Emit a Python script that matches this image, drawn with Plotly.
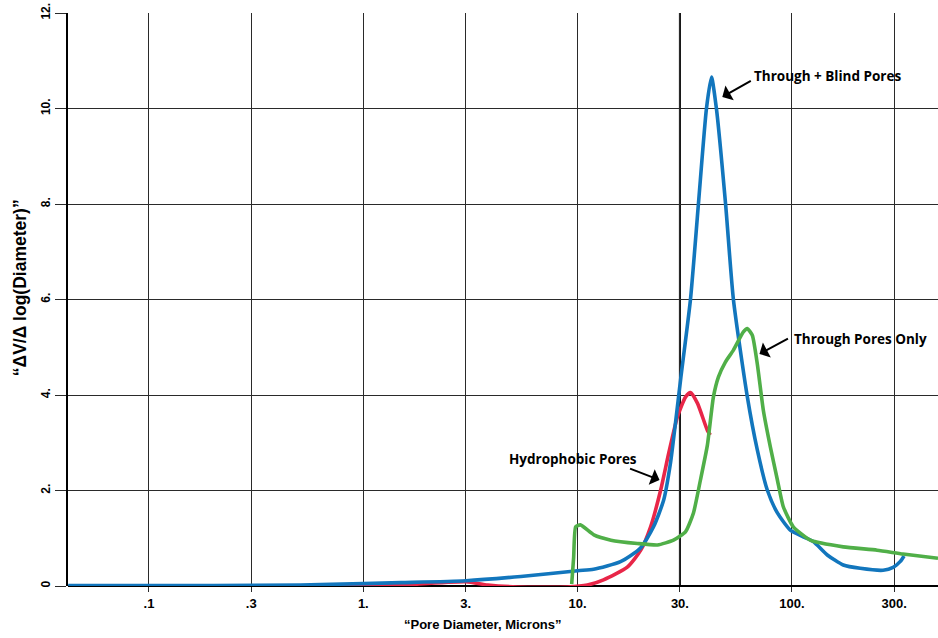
import math
import plotly.graph_objects as go

# ---------------- data ----------------
blue_x = [0.042, 0.2, 0.508, 1.0, 1.5, 3.01, 5.43, 10.0, 11.87, 15.85, 19.6, 22.6, 25.2, 27.1, 28.6,
          30.2, 33.6, 36.6, 39.9, 42.1, 44.4, 49.0, 53.3, 61.9, 68.9, 76.7, 85.5, 98.2, 112.9,
          125.7, 146.1, 173.5, 208.1, 266.2, 296.5, 319.4, 333.5]
blue_y = [0.01, 0.01, 0.02, 0.05, 0.07, 0.11, 0.2, 0.32, 0.35, 0.51, 0.79, 1.24, 1.80, 2.57, 3.41,
          4.31, 6.0, 8.0, 10.0, 10.66, 10.0, 8.0, 6.0, 3.96, 2.85, 2.01, 1.53, 1.17, 1.03,
          0.93, 0.65, 0.44, 0.37, 0.33, 0.39, 0.51, 0.63]

red_x = [0.197, 0.508, 1.0, 1.5, 3.01, 3.81, 5.26, 8.98, 11.1, 13.2, 17.1, 19.7, 21.9, 24.4,
         26.6, 29.2, 31.9, 33.6, 36.2, 40.3, 41.6]
red_y = [-0.02, -0.01, -0.01, 0.02, 0.09, 0.02, -0.02, -0.02, 0.02, 0.13, 0.40, 0.75, 1.24, 2.01,
         2.78, 3.54, 3.96, 4.05, 3.83, 3.26, 3.16]

green_x = [9.38, 9.58, 9.79, 10.3, 11.9, 14.3, 19.0, 23.6, 28.0, 31.9, 34.7, 37.4, 40.3, 43.0,
           45.4, 48.9, 53.3, 59.3, 61.9, 65.3, 68.9, 73.5, 79.2, 85.5, 91.1, 101.4, 121.7,
           173.5, 249.5, 329.6, 480.0]
green_y = [0.04, 0.6, 1.24, 1.28, 1.07, 0.96, 0.89, 0.86, 0.96, 1.14, 1.53, 2.22, 2.95, 3.96,
           4.38, 4.69, 4.94, 5.32, 5.39, 5.25, 4.65, 3.68, 2.92, 2.22, 1.66, 1.24, 0.96,
           0.82, 0.75, 0.67, 0.58]

x_tickvals = [0.1, 0.3, 1, 3, 10, 30, 100, 300]
x_ticktext = [".1", ".3", "1.", "3.", "10.", "30.", "100.", "300."]
y_tickvals = [0, 2, 4, 6, 8, 10, 12]
y_ticktext = ["0", "2.", "4.", "6.", "8.", "10.", "12."]

x_min, x_max = 0.0419, 480.0
highlight_x = 30

# arrow heads (data units) and labels
arrows = [
    {"x": 47.3, "y": 10.24, "ax": 30, "ay": -17},
    {"x": 70.5, "y": 4.86, "ax": 30, "ay": -16},
    {"x": 24.1, "y": 2.22, "ax": -31, "ay": -12},
]
labels = [
    {"text": "Through + Blind Pores", "px": 0.786, "y": 10.68},
    {"text": "Through Pores Only", "px": 0.832, "y": 5.17},
    {"text": "Hydrophobic Pores", "px": 0.505, "y": 2.66},
]

BLUE = "rgb(18,118,189)"
RED = "rgb(232,38,72)"
GREEN = "rgb(80,175,72)"
LW = 3.6

fig = go.Figure()
fig.add_trace(go.Scatter(x=red_x, y=red_y, mode="lines",
                         line=dict(color=RED, width=LW, shape="spline", smoothing=0.6)))
fig.add_trace(go.Scatter(x=blue_x, y=blue_y, mode="lines",
                         line=dict(color=BLUE, width=LW, shape="spline", smoothing=0.6)))
fig.add_trace(go.Scatter(x=green_x, y=green_y, mode="lines",
                         line=dict(color=GREEN, width=LW, shape="spline", smoothing=0.5)))

for a in arrows:
    fig.add_annotation(x=math.log10(a["x"]), y=a["y"], xref="x", yref="y",
                       ax=a["ax"], ay=a["ay"], text="", showarrow=True,
                       arrowhead=1, arrowsize=1.4, arrowwidth=2, arrowcolor="black")
for l in labels:
    fig.add_annotation(x=l["px"], y=l["y"], xref="paper", yref="y", text=l["text"],
                       showarrow=False, xanchor="left", yanchor="middle",
                       font=dict(family="Open Sans", size=13.5, color="black", weight="bold"))

# axis titles
fig.add_annotation(x=0.477, y=-0.068, xref="paper", yref="paper",
                   text="“Pore Diameter, Microns”", showarrow=False,
                   xanchor="center", yanchor="middle",
                   font=dict(family="Liberation Sans Narrow, Arial Narrow, sans-serif",
                             size=13, color="black", weight="bold"))
fig.add_annotation(x=-0.055, y=0.52, xref="paper", yref="paper",
                   text="“ΔV/Δ log(Diameter)”", showarrow=False, textangle=-90,
                   xanchor="center", yanchor="middle",
                   font=dict(family="Liberation Sans, Arial, sans-serif",
                             size=17.5, color="black", weight="bold"))

# darker vertical line at 30
fig.add_shape(type="line", xref="x", yref="paper",
              x0=highlight_x, x1=highlight_x, y0=0, y1=1,
              line=dict(color="black", width=2), layer="below")

fig.update_layout(
    width=938, height=638,
    margin=dict(l=68, r=0, t=13, b=52),
    paper_bgcolor="white", plot_bgcolor="white",
    showlegend=False,
    xaxis=dict(type="log", range=[math.log10(x_min), math.log10(x_max)],
               tickvals=x_tickvals, ticktext=x_ticktext,
               showgrid=True, gridcolor="#2a2a2a", gridwidth=1.2,
               ticks="outside", ticklen=5, tickcolor="#2a2a2a", tickwidth=1.2,
               showline=False, zeroline=False,
               tickfont=dict(family="Liberation Sans Narrow, Arial Narrow, sans-serif",
                             size=13, color="black", weight="bold")),
    yaxis=dict(range=[0, 12], tickvals=y_tickvals, ticktext=y_ticktext,
               showgrid=True, gridcolor="#2a2a2a", gridwidth=1.2,
               ticks="outside", ticklen=11, tickcolor="#2a2a2a", tickwidth=1.2,
               showline=True, linecolor="black", linewidth=1.5,
               zeroline=True, zerolinecolor="black", zerolinewidth=2.2,
               tickangle=-90,
               tickfont=dict(family="Liberation Sans, Arial, sans-serif",
                             size=12, color="black", weight="bold")),
)

fig.write_html("out.html")
